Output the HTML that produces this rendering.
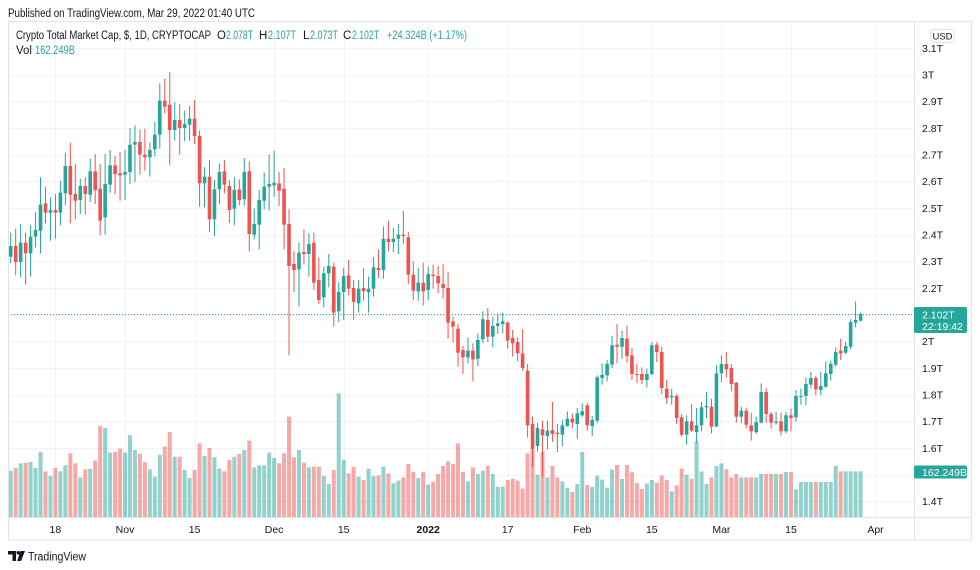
<!DOCTYPE html>
<html>
<head>
<meta charset="utf-8">
<style>
html,body{margin:0;padding:0;background:#fff;}
svg{display:block;font-family:"Liberation Sans",Arial,sans-serif;}
</style>
</head>
<body>
<svg id="s" width="980" height="570" viewBox="0 0 980 570" xmlns="http://www.w3.org/2000/svg">
<rect x="0" y="0" width="980" height="570" fill="#ffffff"/>
<g id="grid"></g>
<g id="vol"></g>
<line x1="8" y1="314.5" x2="914" y2="314.5" stroke="#26a69a" stroke-width="1" stroke-dasharray="1,2"/>
<g id="cdl"></g>
<!-- frame -->
<rect x="8.5" y="21.5" width="963" height="518.5" fill="none" stroke="#e0e3eb" stroke-width="1"/>
<line x1="914.5" y1="21.5" x2="914.5" y2="540" stroke="#e0e3eb" stroke-width="1"/>
<line x1="8.5" y1="517.5" x2="971.5" y2="517.5" stroke="#e0e3eb" stroke-width="1"/>
<g id="axis" font-size="10.5" fill="#131722"></g>
<!-- header -->
<text x="8" y="17" font-size="11.5" fill="#131722" textLength="247" lengthAdjust="spacingAndGlyphs">Published on TradingView.com, Mar 29, 2022 01:40 UTC</text>
<text x="16" y="39" font-size="11.5" fill="#131722" textLength="195" lengthAdjust="spacingAndGlyphs">Crypto Total Market Cap, $, 1D, CRYPTOCAP</text>
<text x="217" y="39" font-size="11.5" fill="#131722">O</text>
<text x="226" y="39" font-size="11.5" fill="#26a69a" textLength="27" lengthAdjust="spacingAndGlyphs">2.078T</text>
<text x="259" y="39" font-size="11.5" fill="#131722">H</text>
<text x="268" y="39" font-size="11.5" fill="#26a69a" textLength="28" lengthAdjust="spacingAndGlyphs">2.107T</text>
<text x="303" y="39" font-size="11.5" fill="#131722">L</text>
<text x="310" y="39" font-size="11.5" fill="#26a69a" textLength="28" lengthAdjust="spacingAndGlyphs">2.073T</text>
<text x="343" y="39" font-size="11.5" fill="#131722">C</text>
<text x="352" y="39" font-size="11.5" fill="#26a69a" textLength="27" lengthAdjust="spacingAndGlyphs">2.102T</text>
<text x="387" y="39" font-size="11.5" fill="#26a69a" textLength="80" lengthAdjust="spacingAndGlyphs">+24.324B (+1.17%)</text>
<text x="16" y="54" font-size="11.5" fill="#131722">Vol</text>
<text x="35" y="54" font-size="11.5" fill="#26a69a" textLength="40" lengthAdjust="spacingAndGlyphs">162.249B</text>
<!-- USD button -->
<rect x="931" y="29.5" width="23" height="13" rx="2.5" fill="#fff" stroke="#e0e3eb"/>
<text x="942.5" y="39.5" font-size="9.5" fill="#131722" text-anchor="middle">USD</text>
<!-- price label -->
<rect x="914" y="307" width="53" height="26" rx="2" fill="#26a69a"/>
<text x="922" y="318.5" font-size="10.5" fill="#ffffff">2.102T</text>
<text x="922" y="330" font-size="10.5" fill="#ffffff">22:19:42</text>
<rect x="914" y="465.5" width="53" height="13" rx="2" fill="#26a69a"/>
<text x="922" y="476" font-size="10.5" fill="#ffffff">162.249B</text>
<!-- footer -->
<path d="M8 551 H16 V561 H12.5 V554.5 H8 Z" fill="#131722"/>
<circle cx="18.3" cy="552.8" r="1.8" fill="#131722"/>
<path d="M20.5 551 H25 L21 561 H17.2 Z" fill="#131722"/>
<text x="28" y="560.5" font-size="11.5" fill="#131722" textLength="58" lengthAdjust="spacingAndGlyphs">TradingView</text>
</svg>
<script>
(function(){
var A=[[1,558,590,518,610,1232],[0,558,606,506,646,1224],[1,548,606,492,652,1210],[0,548,580,518,674,1208],[1,530,580,496,650,1206],[1,510,530,456,562,1224],[1,434,512,352,580,1176],[0,430,458,380,490,1234],[1,450,458,412,542,1248],[0,450,458,402,536,1224],[1,398,458,362,496,1234],[1,318,400,278,436,1216],[0,318,404,248,490,1180],[0,402,422,312,478,1210],[1,378,420,356,462,1252],[0,378,402,352,464,1228],[1,334,404,296,426,1226],[0,334,390,282,432,1202],[0,386,482,312,526,1098],[1,372,472,282,524,1104],[1,316,374,270,398,1178],[0,316,342,288,402,1176],[0,340,346,276,422,1166],[1,336,344,270,420,1178],[1,254,336,204,372,1126],[1,246,254,196,366,1170],[0,246,284,208,344,1182],[0,284,292,206,332,1206],[1,270,292,248,350,1228],[1,224,268,186,290,1250],[1,122,224,70,266,1184],[0,122,140,56,160,1160],[0,134,210,36,316,1116],[1,180,210,126,242,1190],[0,180,204,132,284,1190],[1,192,204,152,244,1230],[1,176,194,138,242,1254],[0,176,228,120,252,1230],[0,228,370,212,440,1150],[1,350,370,322,442,1188],[0,350,478,300,516,1164],[1,388,478,360,528,1192],[1,336,388,310,432,1226]];
var B=[[0,94,134,60,160,994],[0,138,210,120,250,960],[1,150,206,112,256,950],[0,148,180,118,196,942],[1,96,178,54,196,930],[0,94,282,64,334,902],[1,252,284,206,298,982],[1,180,254,150,328,976],[1,140,182,98,208,976],[1,132,140,44,212,938],[1,128,136,32,170,954],[0,130,152,96,198,970],[0,146,254,84,328,940],[0,252,378,208,646,830],[0,372,390,334,456,952],[1,338,388,308,500,930],[0,336,342,268,374,968],[1,312,342,280,410,982],[0,308,428,278,450,980],[0,420,480,352,492,980],[1,400,472,380,502,1008],[1,378,400,342,442,1032],[0,380,518,368,560,990],[1,456,514,426,546,760],[1,408,456,384,540,960],[0,406,446,360,466,1000],[0,444,486,420,540,980],[1,446,490,420,518,1010],[0,444,454,384,482,1020],[1,446,456,410,518,986],[1,382,446,352,470,1008],[0,384,390,328,414,1006],[1,296,390,260,416,980],[0,296,306,242,334,1000],[1,296,306,264,336,1030],[1,284,296,252,342,1022],[0,284,288,212,312,1012],[0,292,404,276,432,972],[0,404,452,364,480,996],[1,428,454,384,482,1014],[0,428,454,368,496,996],[1,402,450,380,480,1034]];
var C=[[0,74,78,44,116,696],[0,78,100,48,130,672],[0,102,114,42,146,648],[0,114,218,66,266,634],[0,214,230,200,278,642],[0,236,308,222,350,580],[0,300,322,288,372,666],[1,302,322,262,340,694],[0,302,328,280,394,652],[1,270,326,250,348,672],[1,208,268,184,280,662],[0,210,260,174,276,648],[1,228,260,200,292,672],[1,220,228,190,252,710],[1,214,222,188,250,710],[0,218,272,214,296,690],[0,264,280,240,320,686],[0,276,310,262,334,692],[0,310,354,238,362,716],[0,362,526,342,562,610],[0,522,598,500,652,600],[1,534,588,518,604,674],[0,538,556,512,680,606],[1,542,558,512,598,682],[0,540,552,456,576,648],[0,548,552,522,606,682],[1,526,554,510,588,694],[1,506,528,484,530,714],[0,506,518,490,534,726],[1,490,522,474,566,702],[1,484,496,460,500,606],[0,466,526,458,542,705],[1,510,528,498,558,711],[1,382,512,376,520,677],[1,374,384,340,404,689],[1,342,376,330,394,713],[1,286,344,258,354,659],[0,284,290,222,340,645],[1,264,290,242,326,687],[0,266,318,226,338,645],[0,316,372,294,390,667],[0,372,374,342,400,699],[0,372,390,352,402,717]];
var D=[[1,252,270,236,292,581],[1,166,252,156,256,570],[0,164,186,156,216,578],[0,186,294,170,312,556],[0,296,324,270,342,570],[1,318,322,296,344,604],[0,318,384,312,402,586],[0,382,434,372,440,536],[1,394,434,376,464,554],[0,394,422,342,426,566],[1,406,426,354,460,454],[1,352,406,336,424,544],[1,348,352,306,384,582],[0,350,410,326,430,562],[1,250,410,226,410,528],[1,222,250,196,276,520],[0,222,238,186,262,538],[0,234,282,222,304,562],[0,278,380,276,398,552],[1,362,380,350,400,562],[0,362,404,354,414,562],[0,406,424,368,452,562],[1,396,426,380,432,562],[1,306,398,280,400,552],[0,306,372,294,398,552],[0,372,398,366,416,552],[1,394,398,366,404,552],[0,394,424,368,436,552],[1,376,424,366,430,546],[0,376,384,356,424,546],[1,318,382,300,396,598],[1,318,320,296,344,576],[1,282,318,262,346,576],[1,264,284,246,294,576],[0,264,298,258,316,576],[1,288,300,246,316,576],[1,250,290,214,294,576],[1,222,252,212,272,576],[1,186,224,172,230,528],[0,182,190,146,210,544],[1,168,188,156,192,544],[1,96,170,88,178,544],[1,90,98,34,112,544],[1,72,92,68,94,544]];
var segs=[[60,0,A],[140,43,B],[250,85,C],[290,128,D]];
var X=function(i){return 10.7+4.97*i;};
var vs='',cs='';
var TE='#26a69a',RE='#ef5350',TV='rgba(38,166,154,0.5)',RV='rgba(239,83,80,0.5)';
segs.forEach(function(sg){
  var y0=sg[0],st=sg[1],d=sg[2];
  d.forEach(function(c,k){
    var i=st+k,x=X(i);
    var bt=y0+c[1]/3,bb=y0+c[2]/3,wt=y0+c[3]/3,wb=y0+c[4]/3,vt=y0+c[5]/3;
    var col=c[0]?TE:RE,vc=c[0]?TV:RV;
    vs+='<rect x="'+(x-2).toFixed(2)+'" y="'+vt.toFixed(2)+'" width="4" height="'+(517-vt).toFixed(2)+'" fill="'+vc+'"/>';
    cs+='<rect x="'+(x-0.5).toFixed(2)+'" y="'+wt.toFixed(2)+'" width="1" height="'+(wb-wt).toFixed(2)+'" fill="'+col+'"/>';
    var h=Math.max(1,bb-bt);
    cs+='<rect x="'+(x-1.8).toFixed(2)+'" y="'+bt.toFixed(2)+'" width="3.6" height="'+h.toFixed(2)+'" fill="'+col+'"/>';
  });
});
document.getElementById('vol').innerHTML=vs;
document.getElementById('cdl').innerHTML=cs;
// grid
var gs='',as='';
var Y=function(p){return 74.7+(3-p)*266.7;};
var prices=[3.1,3.0,2.9,2.8,2.7,2.6,2.5,2.4,2.3,2.2,2.1,2.0,1.9,1.8,1.7,1.6,1.5,1.4];
var labels={'3.1':'3.1T','3':'3T','2.9':'2.9T','2.8':'2.8T','2.7':'2.7T','2.6':'2.6T','2.5':'2.5T','2.4':'2.4T','2.3':'2.3T','2.2':'2.2T','2':'2T','1.9':'1.9T','1.8':'1.8T','1.7':'1.7T','1.6':'1.6T','1.4':'1.4T'};
prices.forEach(function(p){
  var y=Math.round(Y(p))+0.5;
  gs+='<line x1="8" y1="'+y+'" x2="914" y2="'+y+'" stroke="#f0f3fa" stroke-width="1"/>';
  var key=String(Math.round(p*10)/10);
  if(labels[key]) as+='<text x="922" y="'+(Y(p)+3.8).toFixed(1)+'">'+labels[key]+'</text>';
});
var ticks=[[9,'18'],[23,'Nov'],[37,'15'],[53,'Dec'],[67,'15'],[84,'2022'],[100,'17'],[115,'Feb'],[129,'15'],[143,'Mar'],[157,'15'],[174,'Apr']];
ticks.forEach(function(t){
  var x=Math.round(X(t[0]))+0.5;
  gs+='<line x1="'+x+'" y1="22" x2="'+x+'" y2="517" stroke="#f0f3fa" stroke-width="1"/>';
  as+='<text x="'+X(t[0]).toFixed(1)+'" y="533" font-size="10.5" text-anchor="middle"'+(t[1]=='2022'?' font-weight="bold"':'')+'>'+t[1]+'</text>';
});
document.getElementById('grid').innerHTML=gs;
document.getElementById('axis').innerHTML=as;
})();
</script>
</body>
</html>
